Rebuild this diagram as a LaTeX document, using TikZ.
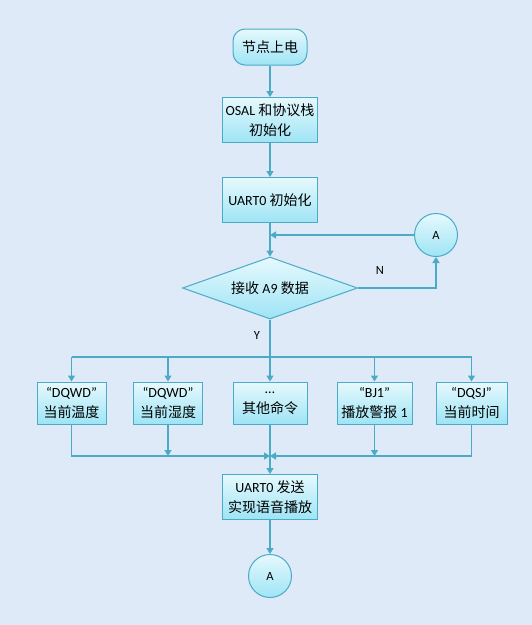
\documentclass[tikz,border=0pt]{standalone}
\usepackage{fontspec}
\setmainfont{Carlito}
\newfontfamily\cjk{Noto Sans CJK SC}
\newcommand{\zh}[1]{{\cjk #1}}
\usetikzlibrary{arrows.meta,positioning,calc,shapes.geometric}
\definecolor{linecolor}{RGB}{75,170,198}
\definecolor{boxtop}{RGB}{230,249,253}
\definecolor{boxbottom}{RGB}{158,228,245}
\definecolor{bgcolor}{RGB}{222,234,248}
\tikzset{
  flowbox/.style={draw=linecolor, line width=1pt, top color=boxtop, bottom color=boxbottom,
    inner sep=0pt, align=center, font=\fontsize{14}{20}\selectfont},
  procbox/.style={flowbox, minimum width=95pt, minimum height=45pt},
  cmdbox/.style={flowbox, minimum width=69pt, minimum height=42pt},
  connbox/.style={flowbox, circle, minimum size=43pt, font=\fontsize{12.5}{14}\selectfont},
  arr/.style={linecolor, line width=1.2pt, -{Triangle[length=6pt,width=7pt]}},
  wire/.style={linecolor, line width=1.2pt},
  tag/.style={font=\fontsize{12.5}{14}\selectfont}
}

\begin{document}
\begin{tikzpicture}[x=1pt, y=-1pt]
    \fill[bgcolor] (0,0) rectangle (532,625);
    % main column
    \node[flowbox, rounded corners=12pt, minimum width=74pt, minimum height=36pt] (start) at (270,47) {\zh{节点上电}};
    \node[procbox] (osal) at (270,120) {OSAL \zh{和协议栈}\\\zh{初始化}};
    \node[procbox] (uart) at (270,200) {UART0 \zh{初始化}};
    \node[flowbox, diamond, aspect=2.8, minimum width=175pt, minimum height=62pt] (recv) at (270,288) {\zh{接收} A9 \zh{数据}};
    \node[connbox] (connA) at (436,235) {A};
    \draw[arr] (start) -- (osal);
    \draw[arr] (osal) -- (uart);
    \draw[arr] (uart) -- (recv);
    % loop back via A
    \draw[arr] (connA.west) -- (uart.south |- connA.west);
    \draw[arr] (recv.east) -| (connA.south);
    \node[tag] (no) at (380,270) {N};
    \node[tag] (yes) at (257,335) {Y};
    % command boxes
    \node[cmdbox] (cmd1) at (71.5,403) {“DQWD”\\\zh{当前温度}};
    \node[cmdbox] (cmd2) at (168,403) {“DQWD”\\\zh{当前湿度}};
    \node[cmdbox, minimum width=74pt] (cmd3) at (270,403) {…\\\zh{其他命令}};
    \node[cmdbox, minimum width=75pt] (cmd4) at (374.5,403) {“BJ1”\\\zh{播放警报} 1};
    \node[cmdbox, minimum width=71pt] (cmd5) at (471.5,403) {“DQSJ”\\\zh{当前时间}};
    \coordinate (busTop) at (270,357);
    \coordinate (busBot) at (270,456);
    \draw[wire] (recv.south) -- (busTop);
    \draw[wire] (cmd1.north |- busTop) -- (cmd5.north |- busTop);
    \foreach \i in {1,...,5}
      \draw[arr] (cmd\i.north |- busTop) -- (cmd\i.north);
    % merge
    \node[procbox] (send) at (270,497) {UART0 \zh{发送}\\\zh{实现语音播放}};
    \node[connbox] (connB) at (270,576) {A};
    \draw[arr] (cmd1.south) |- (busBot);
    \draw[arr] (cmd5.south) |- (busBot);
    \draw[arr] (cmd2.south) -- (cmd2.south |- busBot);
    \draw[arr] (cmd4.south) -- (cmd4.south |- busBot);
    \draw[wire] (cmd3.south) -- (busBot);
    \draw[arr] (busBot) -- (send);
    \draw[arr] (send) -- (connB);
  \end{tikzpicture}
\end{document}
